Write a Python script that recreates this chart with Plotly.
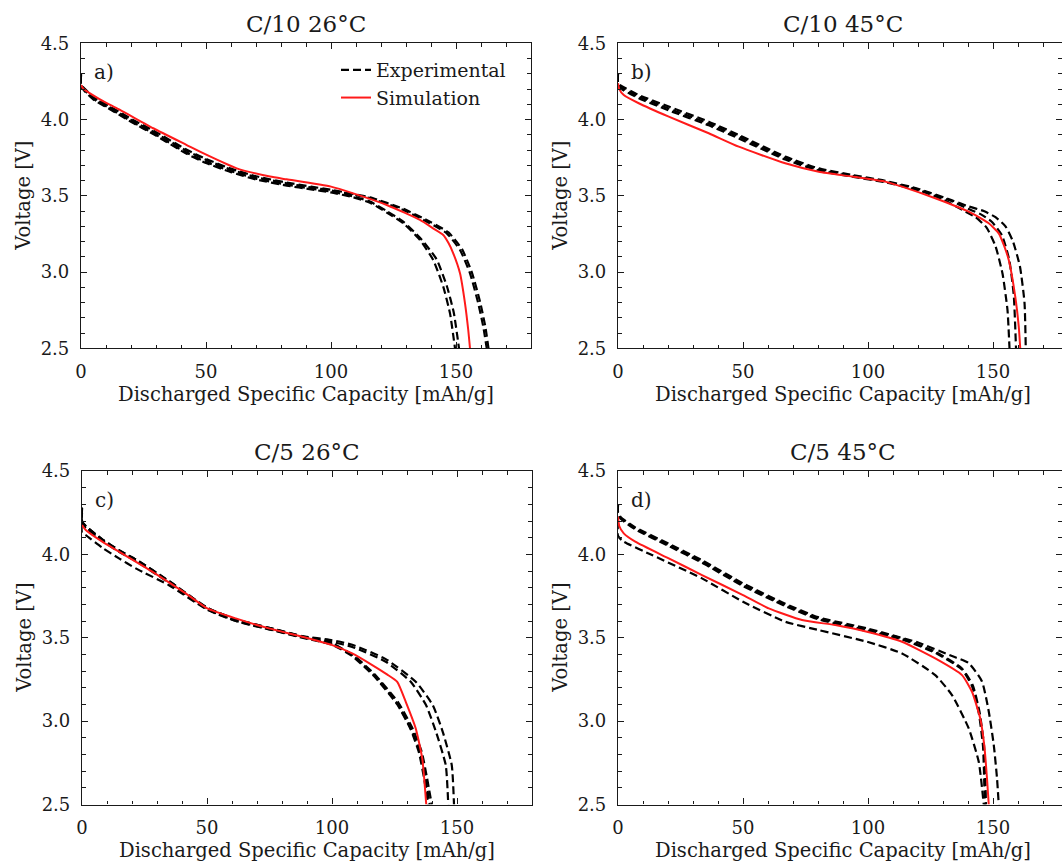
import plotly.graph_objects as go

# ---------------- data: discharged capacity [mAh/g] vs voltage [V] ----------------
# Panel a) C/10 26°C
A_SIM_CAP = [0, 1, 3.6, 10.3, 15.6, 28.9, 42.3, 50.3, 62.3, 75.6, 82.3, 100, 108.9, 122.3, 135.6, 141, 144.9, 147, 148.9, 151.6, 153.6, 154.9, 155.6]
A_SIM_V = [4.227, 4.2, 4.172, 4.107, 4.063, 3.943, 3.833, 3.768, 3.68, 3.626, 3.608, 3.56, 3.516, 3.44, 3.342, 3.285, 3.243, 3.19, 3.123, 2.992, 2.795, 2.62, 2.5]

A_EXP1_CAP = [0, 0.01, 1, 5, 10.3, 20, 28.9, 42.3, 50, 60, 70, 82.3, 92, 100, 108.9, 115.6, 122.3, 128.9, 135.6, 140.9, 144.9, 147.6, 149.6]
A_EXP1_V = [4.30, 4.22, 4.195, 4.13, 4.08, 3.985, 3.905, 3.775, 3.715, 3.655, 3.607, 3.567, 3.542, 3.522, 3.49, 3.455, 3.39, 3.32, 3.21, 3.079, 2.904, 2.729, 2.5]
A_EXP2_CAP = [0, 0.01, 1, 5, 10.3, 20, 28.9, 42.3, 50, 60, 70, 82.3, 92, 100, 108.9, 115.6, 122.3, 128.9, 135.6, 142.2, 146.3, 149.1, 151.2]
A_EXP2_V = [4.29, 4.22, 4.2, 4.135, 4.085, 3.99, 3.91, 3.782, 3.722, 3.662, 3.613, 3.573, 3.547, 3.527, 3.496, 3.462, 3.4, 3.33, 3.225, 3.085, 2.91, 2.735, 2.5]
A_EXP3_CAP = [0, 0.01, 1, 5, 10.3, 20, 28.9, 42.3, 50, 60, 70, 82.3, 92, 100, 108.9, 115.6, 128.9, 139.6, 146.3, 151.6, 155.6, 158.9, 160.9, 162.3]
A_EXP3_V = [4.30, 4.225, 4.205, 4.14, 4.092, 3.998, 3.92, 3.795, 3.735, 3.672, 3.622, 3.582, 3.555, 3.535, 3.508, 3.484, 3.407, 3.32, 3.254, 3.145, 2.992, 2.795, 2.642, 2.5]
A_EXP4_CAP = [0, 0.01, 1, 5, 10.3, 20, 28.9, 42.3, 50, 60, 70, 82.3, 92, 100, 108.9, 115.6, 128.9, 139.6, 147.0, 152.4, 156.4, 159.7, 161.7, 163.0]
A_EXP4_V = [4.29, 4.225, 4.21, 4.145, 4.098, 4.005, 3.928, 3.802, 3.742, 3.678, 3.628, 3.587, 3.56, 3.54, 3.512, 3.49, 3.415, 3.33, 3.26, 3.15, 2.995, 2.8, 2.645, 2.5]

# Panel b) C/10 45°C
B_SIM_CAP = [0, 0.5, 2.3, 8.3, 20.3, 36.3, 48.3, 66.9, 80.3, 93.6, 106.9, 113.6, 126.9, 140.3, 148.3, 152.3, 154.5, 156.3, 158.9, 160.3, 160.9]
B_SIM_V = [4.238, 4.2, 4.161, 4.107, 4.019, 3.91, 3.822, 3.713, 3.658, 3.626, 3.593, 3.56, 3.484, 3.396, 3.32, 3.254, 3.17, 3.079, 2.839, 2.642, 2.5]

B_EXP1_CAP = [0, 0.01, 0.9, 8.3, 20.3, 36.3, 48.3, 66.9, 80.3, 93.6, 106.9, 120.3, 130, 138, 143, 147.5, 151, 153.8, 155.8, 156.6]
B_EXP1_V = [4.30, 4.225, 4.205, 4.14, 4.06, 3.962, 3.876, 3.738, 3.665, 3.625, 3.588, 3.535, 3.475, 3.405, 3.36, 3.29, 3.17, 2.99, 2.75, 2.5]
B_EXP2_CAP = [0, 0.01, 0.9, 8.3, 20.3, 36.3, 48.3, 66.9, 80.3, 93.6, 106.9, 120.3, 133.6, 140, 145, 149.5, 153.6, 156.5, 158.3, 159.2]
B_EXP2_V = [4.30, 4.23, 4.215, 4.15, 4.072, 3.974, 3.888, 3.748, 3.672, 3.631, 3.593, 3.54, 3.464, 3.415, 3.38, 3.33, 3.24, 3.08, 2.85, 2.5]
B_EXP3_CAP = [0, 0.01, 0.9, 8.3, 20.3, 36.3, 48.3, 66.9, 80.3, 93.6, 106.9, 120.3, 133.6, 140.3, 146.3, 151, 155, 158, 160.8, 162.6, 163.1]
B_EXP3_V = [4.30, 4.235, 4.225, 4.161, 4.085, 3.986, 3.899, 3.757, 3.68, 3.637, 3.598, 3.545, 3.47, 3.43, 3.40, 3.36, 3.30, 3.20, 3.035, 2.8, 2.5]

# Panel c) C/5 26°C
C_SIM_CAP = [0, 1.5, 8.1, 14.8, 28.1, 41.5, 50.1, 61.5, 74.8, 88.1, 100.1, 108.1, 116.1, 122, 126.1, 129.5, 133.5, 136.1, 137.7]
C_SIM_V = [4.176, 4.146, 4.076, 4.016, 3.896, 3.766, 3.676, 3.616, 3.556, 3.506, 3.456, 3.406, 3.336, 3.28, 3.236, 3.116, 2.956, 2.776, 2.5]

C_EXP1_CAP = [0, 0.01, 1.5, 8.1, 14.8, 21.5, 34.8, 50.1, 61.5, 74.8, 88.1, 100.1, 108.1, 116.8, 126.1, 131.5, 134.8, 136.8, 138.5]
C_EXP1_V = [4.25, 4.13, 4.115, 4.04, 3.976, 3.916, 3.815, 3.668, 3.6, 3.55, 3.5, 3.458, 3.39, 3.27, 3.1, 2.95, 2.81, 2.66, 2.5]
C_EXP2_CAP = [0, 0.01, 1.5, 8.1, 14.8, 21.5, 34.8, 50.1, 61.5, 74.8, 88.1, 100.1, 108.1, 116.8, 126.1, 131.5, 135.3, 137.4, 139.1]
C_EXP2_V = [4.28, 4.2, 4.165, 4.086, 4.02, 3.966, 3.836, 3.676, 3.606, 3.556, 3.506, 3.466, 3.396, 3.276, 3.106, 2.956, 2.81, 2.656, 2.5]
C_EXP3_CAP = [0, 0.01, 1.5, 8.1, 14.8, 21.5, 34.8, 50.1, 61.5, 74.8, 88.1, 100.1, 108.1, 116.8, 126.6, 132.1, 135.9, 138.0, 139.9]
C_EXP3_V = [4.27, 4.19, 4.16, 4.082, 4.015, 3.96, 3.83, 3.672, 3.602, 3.552, 3.503, 3.463, 3.4, 3.285, 3.11, 2.96, 2.815, 2.66, 2.5]
C_EXP4_CAP = [0, 0.01, 1.5, 8.1, 14.8, 21.5, 34.8, 50.1, 61.5, 74.8, 88.1, 100.1, 108.1, 121.5, 131.5, 137.6, 141.6, 145.5, 146.5]
C_EXP4_V = [4.28, 4.2, 4.17, 4.09, 4.025, 3.97, 3.84, 3.68, 3.61, 3.56, 3.508, 3.475, 3.445, 3.356, 3.236, 3.096, 2.936, 2.736, 2.5]
C_EXP5_CAP = [0, 0.01, 1.5, 8.1, 14.8, 21.5, 34.8, 50.1, 61.5, 74.8, 88.1, 100.1, 108.1, 121.5, 133.5, 140.3, 144.3, 147.9, 148.8]
C_EXP5_V = [4.28, 4.2, 4.17, 4.09, 4.025, 3.97, 3.84, 3.68, 3.61, 3.56, 3.51, 3.485, 3.458, 3.372, 3.236, 3.096, 2.936, 2.736, 2.5]

# Panel d) C/5 45°C
D_SIM_CAP = [0, 0.5, 2.3, 6.9, 20.3, 33.6, 50, 60.3, 73.6, 86.9, 99.6, 113.6, 126.9, 137.6, 141.6, 144.9, 146.5, 147.6, 148.3]
D_SIM_V = [4.226, 4.17, 4.126, 4.076, 3.976, 3.876, 3.756, 3.676, 3.606, 3.576, 3.536, 3.476, 3.376, 3.276, 3.176, 3.016, 2.856, 2.656, 2.5]

D_EXP1_CAP = [0, 0.01, 1, 6.9, 20.3, 33.6, 50, 66.9, 80.3, 99.6, 113.6, 126.9, 137.6, 141.6, 144.3, 146.0, 146.7]
D_EXP1_V = [4.30, 4.245, 4.215, 4.15, 4.05, 3.95, 3.81, 3.69, 3.61, 3.54, 3.49, 3.41, 3.31, 3.21, 3.05, 2.85, 2.5]
D_EXP2_CAP = [0, 0.01, 1, 6.9, 20.3, 33.6, 50, 66.9, 80.3, 99.6, 113.6, 126.9, 137.6, 141.9, 144.6, 146.4, 147.2]
D_EXP2_V = [4.30, 4.25, 4.22, 4.156, 4.056, 3.956, 3.816, 3.696, 3.616, 3.546, 3.496, 3.416, 3.316, 3.216, 3.056, 2.856, 2.5]
D_EXP3_CAP = [0, 0.01, 1, 6.9, 20.3, 33.6, 50, 66.9, 80.3, 99.6, 120.3, 133.6, 140.3, 145.6, 148.3, 150.3, 151.6, 152.3]
D_EXP3_V = [4.30, 4.255, 4.225, 4.162, 4.064, 3.965, 3.826, 3.704, 3.622, 3.556, 3.47, 3.39, 3.348, 3.238, 3.058, 2.858, 2.658, 2.5]
D_EXP4_CAP = [0, 0.01, 2.3, 13.6, 33.6, 50, 66.9, 80.3, 99.6, 113.6, 126.9, 133.6, 140.3, 144.3, 146.3]
D_EXP4_V = [4.20, 4.11, 4.076, 3.996, 3.856, 3.716, 3.596, 3.546, 3.476, 3.406, 3.276, 3.156, 2.956, 2.756, 2.5]

PANEL_TITLES = ["C/10 26°C", "C/10 45°C", "C/5 26°C", "C/5 45°C"]
PANEL_TAGS = ["a)", "b)", "c)", "d)"]
X_TITLE = "Discharged Specific Capacity [mAh/g]"
Y_TITLE = "Voltage [V]"
LEGEND_NAMES = ["Experimental", "Simulation"]

# ---------------- layout geometry (pixels) ----------------
W, H = 1062, 867
FONT = "DejaVu Serif"
INK = "#1a1a1a"


def px_x(p):
    return p / W


def px_y(p):
    return 1 - p / H


# (left, right, top, bottom) in page pixels for each subplot
BOXES = [
    (81, 531, 43.3, 348.3),
    (618, 1062, 43.3, 348.3),
    (82, 532, 471, 804.5),
    (618, 1062, 471, 804.5),
]
PX_PER_UNIT = 2.5  # horizontal scale shared by all four panels

panels = [
    (A_SIM_CAP, A_SIM_V, [(A_EXP1_CAP, A_EXP1_V), (A_EXP2_CAP, A_EXP2_V), (A_EXP3_CAP, A_EXP3_V), (A_EXP4_CAP, A_EXP4_V)]),
    (B_SIM_CAP, B_SIM_V, [(B_EXP1_CAP, B_EXP1_V), (B_EXP2_CAP, B_EXP2_V), (B_EXP3_CAP, B_EXP3_V)]),
    (C_SIM_CAP, C_SIM_V, [(C_EXP1_CAP, C_EXP1_V), (C_EXP2_CAP, C_EXP2_V), (C_EXP3_CAP, C_EXP3_V), (C_EXP4_CAP, C_EXP4_V), (C_EXP5_CAP, C_EXP5_V)]),
    (D_SIM_CAP, D_SIM_V, [(D_EXP1_CAP, D_EXP1_V), (D_EXP2_CAP, D_EXP2_V), (D_EXP3_CAP, D_EXP3_V), (D_EXP4_CAP, D_EXP4_V)]),
]

fig = go.Figure()
layout = {}
annotations = []

for i, (box, (sim_c, sim_v, exps)) in enumerate(zip(BOXES, panels)):
    n = "" if i == 0 else str(i + 1)
    xa, ya = "x" + n, "y" + n
    left, right, top, bottom = box
    x_max = (right - left) / PX_PER_UNIT

    for j, (c, v) in enumerate(exps):
        fig.add_trace(go.Scatter(
            x=c, y=v, xaxis=xa, yaxis=ya, mode="lines",
            line=dict(color="black", width=2.2, dash="8px,4px", shape="spline", smoothing=0.5),
            name=LEGEND_NAMES[0], legendgroup="exp",
            showlegend=(i == 0 and j == 0), hoverinfo="skip",
        ))
    fig.add_trace(go.Scatter(
        x=sim_c, y=sim_v, xaxis=xa, yaxis=ya, mode="lines",
        line=dict(color="#ff1a1a", width=2, shape="spline", smoothing=0.5),
        name=LEGEND_NAMES[1], legendgroup="sim",
        showlegend=(i == 0), hoverinfo="skip",
    ))

    common = dict(
        ticks="inside", ticklen=6, tickwidth=1, tickcolor=INK,
        showline=True, linecolor=INK, linewidth=1.2, mirror="allticks",
        showgrid=False, zeroline=False, automargin=False,
        tickfont=dict(family=FONT, size=18, color=INK),
    )
    layout["xaxis" + n] = dict(
        common,
        domain=[px_x(left), px_x(right)], range=[0, x_max],
        anchor=ya, tickmode="linear", tick0=0, dtick=50,
        minor=dict(ticks="inside", tick0=0, dtick=10, ticklen=3.5, tickcolor=INK, showgrid=False),
        ticklabelstandoff=7,
    )
    layout["yaxis" + n] = dict(
        common,
        domain=[px_y(bottom), px_y(top)], range=[2.5, 4.5],
        anchor=xa, tickmode="linear", tick0=2.5, dtick=0.5, tickformat=".1f",
        minor=dict(ticks="inside", tick0=2.5, dtick=0.1, ticklen=3.5, tickcolor=INK, showgrid=False),
        ticklabelstandoff=7,
    )

    full_center = (left + (left + 180 * PX_PER_UNIT)) / 2
    cx = (full_center - left) / (right - left)
    # subplot title
    annotations.append(dict(
        text=PANEL_TITLES[i], xref=xa + " domain", yref=ya + " domain",
        x=cx, y=1, xanchor="center", yanchor="middle", yshift=19, showarrow=False,
        font=dict(family=FONT, size=23, color=INK),
    ))
    # x-axis title
    annotations.append(dict(
        text=X_TITLE, xref=xa + " domain", yref=ya + " domain",
        x=cx, y=0, xanchor="center", yanchor="middle", yshift=-46, showarrow=False,
        font=dict(family=FONT, size=19.5, color=INK),
    ))
    # y-axis title
    annotations.append(dict(
        text=Y_TITLE, xref=xa + " domain", yref=ya + " domain",
        x=0, y=0.5, xanchor="center", yanchor="middle", xshift=-57, textangle=-90,
        showarrow=False, font=dict(family=FONT, size=19.5, color=INK),
    ))
    # panel tag
    annotations.append(dict(
        text=PANEL_TAGS[i], xref=xa + " domain", yref=ya + " domain",
        x=0, y=1, xanchor="left", yanchor="middle", xshift=11, yshift=-29,
        showarrow=False, font=dict(family=FONT, size=20, color=INK),
    ))

fig.update_layout(
    **layout,
    template="none",
    annotations=annotations,
    width=W, height=H,
    margin=dict(l=0, r=0, t=0, b=0, pad=0, autoexpand=False),
    paper_bgcolor="white", plot_bgcolor="white",
    font=dict(family=FONT, color=INK),
    showlegend=True,
    legend=dict(
        x=px_x(336), y=px_y(51), xanchor="left", yanchor="top",
        bgcolor="rgba(0,0,0,0)", borderwidth=0,
        font=dict(family=FONT, size=19, color=INK),
        traceorder="grouped", tracegroupgap=0,
    ),
)

fig.write_html("out.html")
